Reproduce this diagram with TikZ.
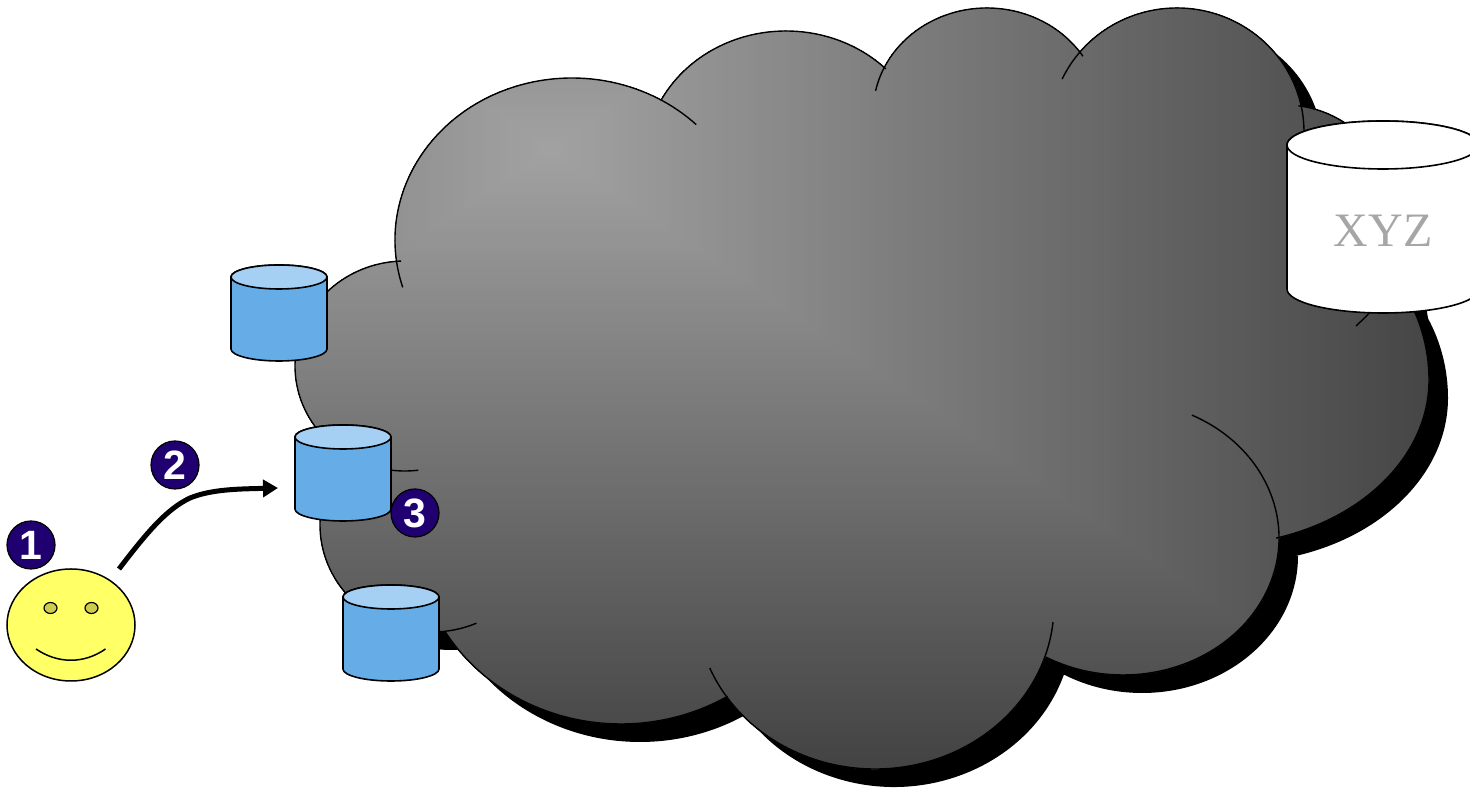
\documentclass[tikz,border=0pt]{standalone}
\usepackage{fontspec}
\setmainfont{Liberation Serif}
\newfontfamily\badgefont{Liberation Sans}
\usetikzlibrary{arrows.meta,shapes.geometric}
\definecolor{dbbody}{HTML}{66ADE8}
\definecolor{dbtop}{HTML}{A5CFF3}
\definecolor{badgeblue}{HTML}{200070}
\definecolor{faceyellow}{HTML}{FFFF66}
\definecolor{eyeyellow}{HTML}{CCCC4D}
\definecolor{xyzgray}{HTML}{A6A6A6}
\tikzset{
  eb/.style n args={6}{insert path={-- ({#1+#3*cos(#5)},{789-#2+#4*sin(#5)}) arc[start angle=#5,end angle=#6,x radius=#3pt,y radius=#4pt]}},
  em/.style n args={6}{insert path={({#1+#3*cos(#5)},{789-#2+#4*sin(#5)}) arc[start angle=#5,end angle=#6,x radius=#3pt,y radius=#4pt]}},
  cloudoutline/.style={insert path={
    [em={572}{240}{177}{162}{187.6}{59.5}]
    [eb={786}{160}{141}{129}{152}{45}]
    [eb={987}{113}{114}{105}{154.4}{36.3}]
    [eb={1177}{132}{127}{124}{139}{12.6}]
    [eb={1285}{216}{110}{111}{82}{20}]
    [eb={1280}{380}{149}{159}{30}{0}]
    [eb={1215}{380}{214}{165}{0}{-73.4}]
    [eb={1123}{538}{156}{137}{0}{-119.6}]
    [eb={875}{605}{179}{164}{-18.4}{-145}]
    [eb={621}{534}{205}{190}{-58.7}{-148.9}]
    [eb={432}{525}{112}{107}{-81.8}{-190}]
    [eb={405}{366}{110}{105}{-130}{-270}]
    -- cycle}},
  edge line/.style={draw=black,line width=1.4pt},
  outline/.style={draw=black,line width=1.6pt},
  badge/.style={circle,draw=black,line width=1.2pt,fill=badgeblue,minimum size=48pt,inner sep=0pt,text=white,font=\badgefont\fontsize{41}{41}\bfseries\selectfont},
  marker/.style={inner sep=0pt,minimum size=0pt}
}
% name, left x, top y (screen), width, height, ellipse half height, body colour, top colour
\newcommand\dbcyl[8]{%
  \pgfmathsetmacro\cx{#2+#4/2}\pgfmathsetmacro\ctop{789-#3-#6}\pgfmathsetmacro\cbot{789-#3-#5+#6}\pgfmathsetmacro\crx{#4/2}%
  \filldraw[outline,fill=#7] (#2,\ctop) -- (#2,\cbot) arc[start angle=180,end angle=360,x radius=\crx pt,y radius=#6pt] -- ({#2+#4},\ctop) arc[start angle=0,end angle=180,x radius=\crx pt,y radius=#6pt] -- cycle;
  \filldraw[outline,fill=#8] (\cx,\ctop) ellipse[x radius=\crx pt,y radius=#6pt];
  \node[marker] (#1) at (\cx,{789-#3-#5/2}) {};
}
\begin{document}
\begin{tikzpicture}[x=1pt,y=1pt]
\useasboundingbox (0,0) rectangle (1470,789);
\clip (0,0) rectangle (1470,789);
% shadow
\begin{scope}[shift={(19pt,-18pt)}]
  \fill[black,cloudoutline];
\end{scope}
% cloud body: rectangular gradient from the light focus
\begin{scope}
  \clip[cloudoutline];
  \foreach \i in {170,169,...,0}{
    \pgfmathsetmacro\d{\i/170*1.15}
    \pgfmathsetmacro\v{max(68,162-95*\d)}
    \pgfmathsetmacro\p{100*(1-\v/255)}
    \fill[black!\p!white] ({550-\d*910},{640-\d*620}) rectangle ({550+\d*910},{640+\d*620});
  }
\end{scope}
% cloud arcs with their inner ends
\path[edge line,em={572}{240}{177}{162}{197}{45.4}];
\path[edge line,em={786}{160}{141}{129}{152.1}{44.9}];
\path[edge line,em={987}{113}{114}{105}{167.8}{32.7}];
\path[edge line,em={1177}{132}{127}{124}{154.7}{0}];
\path[edge line,em={1285}{216}{110}{111}{83}{40}];
\path[edge line,em={1280}{380}{149}{159}{28}{0}];
\path[edge line,em={1215}{380}{214}{165}{0}{-73.4}];
\path[edge line,em={1123}{538}{156}{137}{63.8}{-119.6}];
\path[edge line,em={875}{605}{179}{164}{-6}{-157.4}];
\path[edge line,em={621}{534}{205}{190}{-58.7}{-148.9}];
\path[edge line,em={432}{525}{112}{107}{-66.6}{-190}];
\path[edge line,em={405}{366}{110}{105}{-83}{-268}];
\draw[edge line] (1356,463) .. controls (1362,469) and (1368,473) .. (1375,484);
% databases
\dbcyl{dbA}{231}{265}{96}{96}{12}{dbbody}{dbtop}
\dbcyl{dbB}{295}{425}{96}{96}{12}{dbbody}{dbtop}
\dbcyl{dbC}{343}{585}{96}{96}{12}{dbbody}{dbtop}
\dbcyl{dbX}{1287}{121}{192}{192}{24}{white}{white}
\node[inner sep=0pt,text=xyzgray,font=\fontsize{48}{48}\selectfont] (xyz) at (1383,558) {XYZ};
% face
\node[ellipse,draw=black,line width=1.5pt,fill=faceyellow,minimum width=128pt,minimum height=112pt,inner sep=0pt] (face) at (71,164) {};
\node[ellipse,draw=black,line width=1.2pt,fill=eyeyellow,minimum width=13pt,minimum height=11pt,inner sep=0pt] (eyeL) at (50.5,181) {};
\node[ellipse,draw=black,line width=1.2pt,fill=eyeyellow,minimum width=13pt,minimum height=11pt,inner sep=0pt] (eyeR) at (91.5,181) {};
\coordinate (smileL) at (36,140);
\coordinate (smileR) at (105.5,140);
\draw[line width=1.5pt] (smileL) .. controls (58,125) and (84,125) .. (smileR);
% arrow
\coordinate (arrowFrom) at (119,220);
\coordinate (arrowTo) at (278,301);
\draw[line width=5pt,-{Triangle[length=15pt,width=17pt]}] (arrowFrom) .. controls (148,258) and (167,280) .. (190,291) .. controls (212,300) and (240,300) .. (arrowTo);
% badges
\node[badge] (b1) at (31,244) {1};
\node[badge] (b2) at (175,324) {2};
\node[badge] (b3) at (415,276) {3};
\end{tikzpicture}
\end{document}
